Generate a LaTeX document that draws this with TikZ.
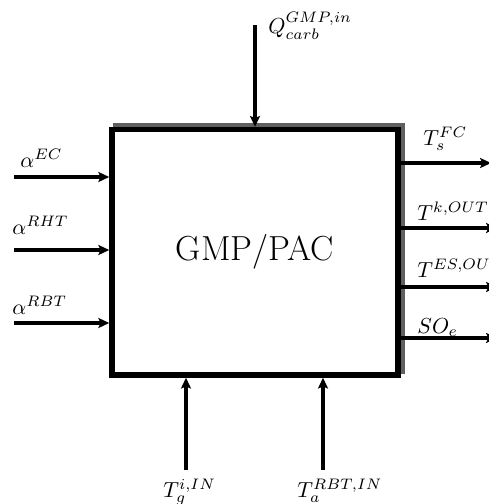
\documentclass[tikz,border=0pt]{standalone}
\usetikzlibrary{arrows.meta}
\begin{document}
\begin{tikzpicture}[x=0.46pt,y=-0.46pt,every node/.style={inner sep=0pt},
  flow/.style={line width=1.4pt,-{Stealth[length=5pt,width=4.6pt,inset=1pt]}}]
\path[use as bounding box,clip] (0,0) rectangle (489,504);
% block with its grey shadow
\node[draw,line width=2.5pt,fill=white,minimum width=131.6pt,minimum height=112.9pt,font=\fontsize{16}{19}\selectfont,
  preaction={draw=gray!75!black,line width=2.5pt,transform canvas={shift={(1.84pt,1.84pt)}}}] (gmp) at (255,252.25) {GMP/PAC};
% inputs on the left
\coordinate (inEC) at (14,177); \coordinate (inRHT) at (14,250); \coordinate (inRBT) at (14,323);
\draw[flow] (inEC) -- (inEC -| gmp.west); \draw[flow] (inRHT) -- (inRHT -| gmp.west); \draw[flow] (inRBT) -- (inRBT -| gmp.west);
\node[anchor=base west] (lEC) at (20,167) {$\alpha^{EC}$};
\node[anchor=base west] (lRHT) at (12,234) {$\alpha^{RHT}$};
\node[anchor=base west] (lRBT) at (12,314) {$\alpha^{RBT}$};
% outputs on the right
\coordinate (outFC) at (491,163); \coordinate (outK) at (497,228); \coordinate (outES) at (497,287); \coordinate (outSO) at (497,338);
\draw[flow] (outFC -| gmp.east) -- (outFC); \draw[flow] (outK -| gmp.east) -- (outK);
\draw[flow] (outES -| gmp.east) -- (outES); \draw[flow] (outSO -| gmp.east) -- (outSO);
\node[anchor=base west] (lFC) at (423,145) {$T_s^{FC}$};
\node[anchor=base west] (lK) at (417,220) {$T^{k,OUT}$};
\node[anchor=base west] (lES) at (417,277) {$T^{ES,OUT}$};
\node[anchor=base west] (lSO) at (417,333) {$SO_e$};
% top and bottom
\coordinate (inQ) at (255,25); \draw[flow] (inQ) -- (inQ |- gmp.north);
\node[anchor=base west] (lQ) at (268,33) {$Q_{carb}^{GMP,in}$};
\coordinate (inG) at (186,470); \coordinate (inA) at (323,470);
\draw[flow] (inG) -- (inG |- gmp.south); \draw[flow] (inA) -- (inA |- gmp.south);
\node[anchor=base west] (lG) at (163,497) {$T_g^{i,IN}$};
\node[anchor=base west] (lA) at (297,497) {$T_a^{RBT,IN}$};
\end{tikzpicture}
\end{document}
